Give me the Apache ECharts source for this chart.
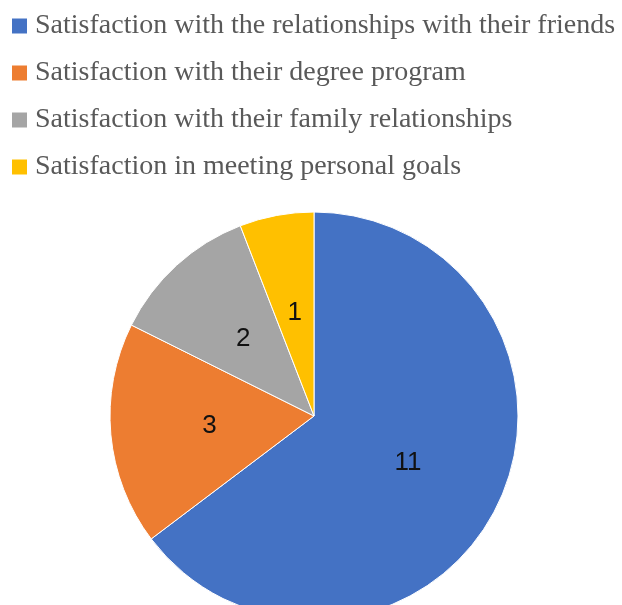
<!DOCTYPE html>
<html>
<head>
<meta charset="utf-8">
<script src="https://cdn.jsdelivr.net/npm/echarts@6/dist/echarts.min.js"></script>
<style>
  html, body { margin: 0; padding: 0; background: #fff; }
  #chart { width: 622px; height: 605px; }
</style>
</head>
<body>
<div id="chart"></div>
<script>
// Student satisfaction responses
const categories = [
  'Satisfaction with the relationships with their friends',
  'Satisfaction with their degree program',
  'Satisfaction with their family relationships',
  'Satisfaction in meeting personal goals'
];
const counts = [11, 3, 2, 1];
const colors = ['#4472C4', '#ED7D31', '#A5A5A5', '#FFC000'];

const chart = echarts.init(document.getElementById('chart'));
chart.setOption({
  animation: false,
  color: colors,
  legend: {
    orient: 'vertical',
    left: 10,
    top: 10,
    padding: 0,
    itemWidth: 17,
    itemHeight: 17,
    itemGap: 15,
    icon: 'rect',
    textStyle: {
      fontFamily: '"Liberation Serif", "Times New Roman", serif',
      fontSize: 28,
      lineHeight: 32,
      color: '#595959',
      padding: [0, 0, 0, 2]
    },
    data: categories
  },
  series: [{
    type: 'pie',
    center: [314, 416],
    radius: [0, 204],
    startAngle: 90,
    clockwise: true,
    itemStyle: { borderColor: '#fff', borderWidth: 1 },
    label: {
      show: true,
      position: 'inside',
      formatter: '{c}',
      fontFamily: '"Liberation Sans", Arial, sans-serif',
      fontSize: 26,
      color: '#111'
    },
    labelLine: { show: false },
    data: categories.map((name, i) => ({ name, value: counts[i] }))
  }]
});
</script>
</body>
</html>
